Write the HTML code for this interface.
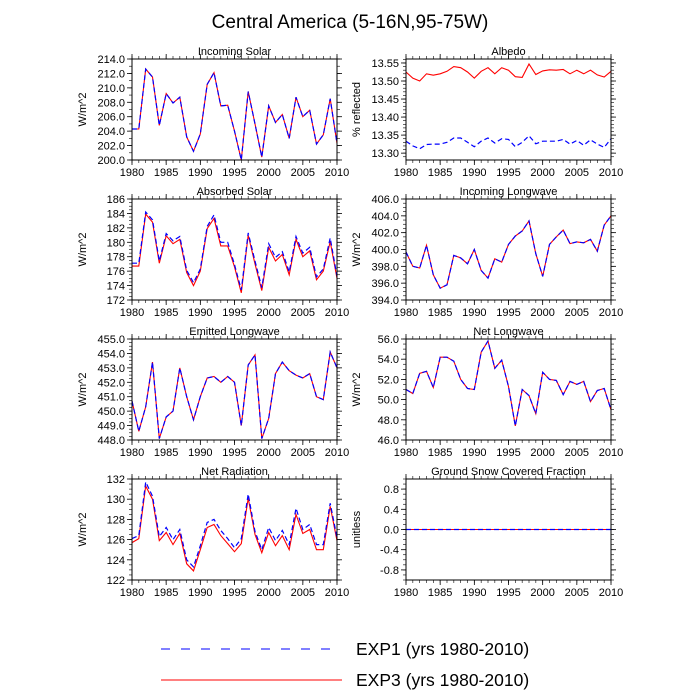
<!DOCTYPE html>
<html><head><meta charset="utf-8"><style>
body{margin:0;background:#fff}
svg{display:block;font-family:"Liberation Sans",sans-serif}
</style></head><body>
<svg id="c" width="700" height="700" viewBox="0 0 700 700">
<text x="350" y="28" font-size="19" text-anchor="middle">Central America (5-16N,95-75W)</text>
<g>
<line x1="161" y1="649" x2="338" y2="649" stroke="#0000ff" stroke-width="1" stroke-dasharray="9,11"/>
<text x="356" y="655" font-size="17.5">EXP1 (yrs 1980-2010)</text>
<line x1="161" y1="680" x2="342" y2="680" stroke="#ff0000" stroke-width="1"/>
<text x="356" y="686" font-size="17.5">EXP3 (yrs 1980-2010)</text>
</g>
</svg>
<script>
const years=[];for(let y=1980;y<=2010;y++)years.push(y);
const xTicks=[1980,1985,1990,1995,2000,2005,2010];
const solarIn=[204.3,204.3,212.6,211.5,204.8,209.2,207.9,208.7,203.2,201.2,203.6,210.5,212.1,207.5,207.6,204.0,200.0,209.5,205.0,200.4,207.5,205.2,206.3,203.0,208.7,206.0,206.9,202.2,203.5,208.5,202.3];
const absExp3=[176.7,176.7,183.9,182.8,177.1,180.9,179.8,180.4,175.8,174.0,176.0,181.9,183.3,179.5,179.5,176.6,173.0,181.0,177.0,173.3,179.3,177.4,178.3,175.5,180.4,178.0,178.8,174.8,176.0,180.1,175.0];
const absExp1=[177.1,177.1,184.2,183.1,177.4,181.2,180.2,180.8,176.1,174.4,176.3,182.2,183.8,180.0,180.0,176.9,173.4,181.3,177.4,173.7,179.8,177.9,178.7,175.9,180.8,178.5,179.3,175.2,176.3,180.6,175.3];
const albExp3=[13.525,13.508,13.500,13.520,13.516,13.520,13.527,13.540,13.537,13.525,13.508,13.527,13.537,13.520,13.537,13.530,13.512,13.510,13.547,13.518,13.528,13.531,13.530,13.532,13.520,13.530,13.520,13.530,13.517,13.511,13.527];
const albExp1=[13.333,13.320,13.312,13.324,13.325,13.325,13.330,13.342,13.342,13.330,13.318,13.333,13.342,13.328,13.340,13.338,13.318,13.330,13.348,13.326,13.333,13.333,13.333,13.338,13.325,13.335,13.322,13.337,13.325,13.316,13.340];
const lwIn=[399.7,398.0,397.8,400.5,397.0,395.4,395.8,399.3,399.0,398.3,400.0,397.5,396.6,398.9,398.5,400.6,401.6,402.2,403.4,399.5,396.8,400.6,401.5,402.3,400.7,400.9,400.8,401.2,399.8,402.9,404.0];
const lwOut=[450.7,448.6,450.3,453.4,448.1,449.6,450.0,453.0,451.0,449.4,451.0,452.3,452.4,452.0,452.4,452.0,449.0,453.2,453.9,448.1,449.5,452.6,453.4,452.8,452.5,452.3,452.6,451.0,450.8,454.1,453.0];
const lwNet=[51.0,50.6,52.6,52.8,51.2,54.2,54.2,53.8,52.0,51.1,51.0,54.7,55.8,53.1,53.9,51.3,47.4,51.0,50.4,48.6,52.7,52.0,51.9,50.5,51.8,51.5,51.8,49.8,50.9,51.1,49.0];
const netExp3=[125.7,126.1,131.3,130.0,125.9,126.7,125.5,126.6,123.6,122.9,125.0,127.2,127.5,126.4,125.6,124.8,125.6,130.1,126.5,124.7,126.7,125.4,126.4,125.0,128.5,126.6,127.0,125.0,125.0,129.3,125.9];
const netExp1=[126.1,126.4,131.7,130.3,126.3,127.2,126.0,127.0,124.0,123.3,125.4,127.7,128.0,126.9,126.1,125.2,126.1,130.5,126.8,125.0,127.2,125.9,126.9,125.5,129.1,127.0,127.5,125.5,125.5,129.6,126.2];
const snow=[0,0,0,0,0,0,0,0,0,0,0,0,0,0,0,0,0,0,0,0,0,0,0,0,0,0,0,0,0,0,0];
const ticksSolar=[200,202,204,206,208,210,212,214];
const ticksAbs=[172,174,176,178,180,182,184,186];
const ticksAlb=[13.30,13.35,13.40,13.45,13.50,13.55];
const ticksLwIn=[394,396,398,400,402,404,406];
const ticksLwOut=[448,449,450,451,452,453,454,455];
const ticksLwNet=[46,48,50,52,54,56];
const ticksNet=[122,124,126,128,130,132];
const ticksSnow=[-0.8,-0.4,0,0.4,0.8];

const NS='http://www.w3.org/2000/svg';
const svg=document.getElementById('c');
function mk(tag,attrs,parent){const e=document.createElementNS(NS,tag);for(const k in attrs)e.setAttribute(k,attrs[k]);(parent||svg).appendChild(e);return e;}
const panels=[
 {id:'incoming-solar',title:'Incoming Solar',ylab:'W/m^2',col:0,row:0,ymin:200,ymax:214,ticks:ticksSolar,dec:1,minor:1,e1:solarIn,e3:solarIn},
 {id:'albedo',title:'Albedo',ylab:'% reflected',col:1,row:0,ymin:13.281,ymax:13.561,ticks:ticksAlb,dec:2,minor:0.01,e1:albExp1,e3:albExp3},
 {id:'absorbed-solar',title:'Absorbed Solar',ylab:'W/m^2',col:0,row:1,ymin:172,ymax:186,ticks:ticksAbs,dec:0,minor:0.5,e1:absExp1,e3:absExp3},
 {id:'incoming-longwave',title:'Incoming Longwave',ylab:'W/m^2',col:1,row:1,ymin:394,ymax:406,ticks:ticksLwIn,dec:1,minor:0.5,e1:lwIn,e3:lwIn},
 {id:'emitted-longwave',title:'Emitted Longwave',ylab:'W/m^2',col:0,row:2,ymin:448,ymax:455,ticks:ticksLwOut,dec:1,minor:0.25,e1:lwOut,e3:lwOut},
 {id:'net-longwave',title:'Net Longwave',ylab:'W/m^2',col:1,row:2,ymin:46,ymax:56,ticks:ticksLwNet,dec:1,minor:0.5,e1:lwNet,e3:lwNet},
 {id:'net-radiation',title:'Net Radiation',ylab:'W/m^2',col:0,row:3,ymin:122,ymax:132,ticks:ticksNet,dec:0,minor:0.5,e1:netExp1,e3:netExp3},
 {id:'snow-fraction',title:'Ground Snow Covered Fraction',ylab:'unitless',col:1,row:3,ymin:-1,ymax:1,ticks:ticksSnow,dec:1,minor:0.1,e1:snow,e3:snow}
];
const colX=[[132,337],[406,611]];
const rowY=[[59,160],[199,300],[339,440],[479,580]];
panels.forEach(p=>{
 const [x0,x1]=colX[p.col],[y0,y1]=rowY[p.row];
 const g=mk('g',{});
 
 
 const sx=v=>x0+(v-1980)/30*(x1-x0);
 const sy=v=>y1-(v-p.ymin)/(p.ymax-p.ymin)*(y1-y0);
 const t=mk('text',{x:(x0+x1)/2,y:y0-4,'font-size':11,'text-anchor':'middle'},g);t.textContent=p.title;
 
 
 const yl=mk('text',{x:0,y:0,'font-size':11,'text-anchor':'middle',transform:`translate(${x0-46},${(y0+y1)/2}) rotate(-90)`},g);yl.textContent=p.ylab;
 
 
 const mstart=Math.ceil(p.ymin/p.minor-1e-6);
 for(let k=mstart;k*p.minor<=p.ymax+1e-9;k++){const v=k*p.minor;const y=sy(v);
  mk('line',{x1:x0-3,x2:x0,y1:y,y2:y,stroke:'#000','stroke-width':0.6},g);
  mk('line',{x1:x1,x2:x1+3,y1:y,y2:y,stroke:'#000','stroke-width':0.6},g);}
 p.ticks.forEach(v=>{const y=sy(v);
  mk('line',{x1:x0-5,x2:x0,y1:y,y2:y,stroke:'#000','stroke-width':0.8},g);
  mk('line',{x1:x1,x2:x1+5,y1:y,y2:y,stroke:'#000','stroke-width':0.8},g);
  const tl=mk('text',{x:x0-7,y:y+4,'font-size':11,'text-anchor':'end'},g);tl.textContent=v.toFixed(p.dec);
  
  });
 years.forEach(v=>{const x=sx(v);
  mk('line',{x1:x,x2:x,y1:y1,y2:y1+3,stroke:'#000','stroke-width':0.6},g);
  mk('line',{x1:x,x2:x,y1:y0-3,y2:y0,stroke:'#000','stroke-width':0.6},g);});
 xTicks.forEach(v=>{const x=sx(v);
  mk('line',{x1:x,x2:x,y1:y1,y2:y1+5,stroke:'#000','stroke-width':0.8},g);
  mk('line',{x1:x,x2:x,y1:y0-5,y2:y0,stroke:'#000','stroke-width':0.8},g);
  const tl=mk('text',{x:x,y:y1+16,'font-size':11,'text-anchor':'middle'},g);tl.textContent=v;
  
  });
 const pts=a=>a.map((v,i)=>sx(years[i]).toFixed(1)+','+sy(v).toFixed(1)).join(' ');
 const l3=mk('polyline',{points:pts(p.e3),fill:'none',stroke:'#ff0000','stroke-width':1.1},g);
 
 
 const l1=mk('polyline',{points:pts(p.e1),fill:'none',stroke:'#0000ff','stroke-width':1.2,'stroke-dasharray':'5,3'},g);
 
 
 const fr=mk('rect',{x:x0,y:y0,width:x1-x0,height:y1-y0,fill:'none',stroke:'#000','stroke-width':1},g);
 
 
});
</script>
</body></html>
